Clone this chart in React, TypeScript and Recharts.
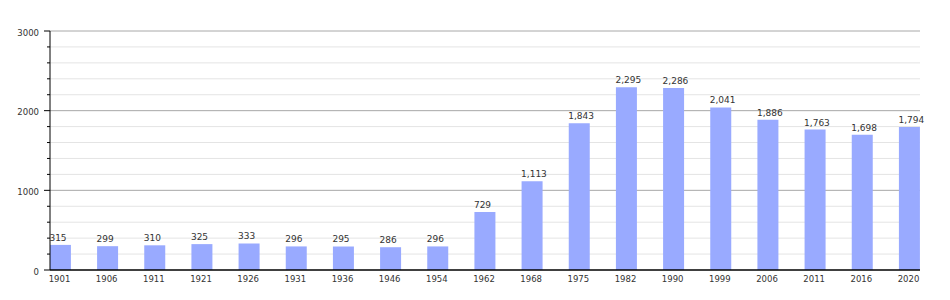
import React from "react";
import { BarChart, Bar, XAxis, YAxis, CartesianGrid, LabelList } from "recharts";

const years = ["1901","1906","1911","1921","1926","1931","1936","1946","1954","1962","1968","1975","1982","1990","1999","2006","2011","2016","2020"];
const population = [315,299,310,325,333,296,295,286,296,729,1113,1843,2295,2286,2041,1886,1763,1698,1794];
const yTicks = [0,200,400,600,800,1000,1200,1400,1600,1800,2000,2200,2400,2600,2800,3000];
const majorTicks = [1000,2000,3000];
const minorTicks = yTicks.filter((t) => t > 0 && !majorTicks.includes(t));

const data = years.map((y, i) => ({ idx: i, year: y, pop: population[i] }));
const xTicks = years.map((_, i) => i);

const FONT = "DejaVu Sans, Verdana, sans-serif";

const YTick = (props: any) => {
  const { x, y, payload } = props;
  const v = payload.value as number;
  const major = v % 1000 === 0;
  return (
    <g>
      <line x1={x - (major ? 6 : 3)} x2={x} y1={y} y2={y} stroke="#000" strokeWidth={1} />
      {major && (
        <text x={x - 11} y={y + 4.5} textAnchor="end" fontSize={8.5} fontFamily={FONT} fill="#333">
          {v}
        </text>
      )}
    </g>
  );
};

const XTick = (props: any) => {
  const { x, y, payload } = props;
  return (
    <text x={x - 1} y={y + 12} textAnchor="middle" fontSize={8.5} fontFamily={FONT} fill="#333">
      {years[payload.value]}
    </text>
  );
};

const BarLabel = (props: any) => {
  const { x, y, value } = props;
  return (
    <text x={x - 0.5} y={y - 4} textAnchor="start" fontSize={9} fontFamily={FONT} fill="#333">
      {Number(value).toLocaleString("en-US")}
    </text>
  );
};

export default function App() {
  return (
    <div style={{ position: "absolute", left: 0, top: 0, width: 950, height: 300, background: "#fff" }}>
      <BarChart width={950} height={300} data={data} margin={{ top: 31, right: 30, bottom: 0, left: 0 }}>
        <CartesianGrid vertical={false} horizontalValues={minorTicks} stroke="#e4e4e4" strokeWidth={1} />
        <CartesianGrid vertical={false} horizontalValues={majorTicks} stroke="#a8a8a8" strokeWidth={1} />
        <XAxis
          dataKey="idx"
          type="number"
          domain={[-0.2226, 18.2226]}
          ticks={xTicks}
          interval={0}
          allowDataOverflow
          height={30}
          tickLine={false}
          tickSize={0}
          tickMargin={0}
          tick={<XTick />}
          axisLine={{ stroke: "#000", strokeWidth: 1.5 }}
        />
        <YAxis
          type="number"
          domain={[0, 3000]}
          ticks={yTicks}
          interval={0}
          width={50}
          tickLine={false}
          tickSize={0}
          tickMargin={0}
          tick={<YTick />}
          axisLine={{ stroke: "#000", strokeWidth: 1 }}
        />
        <Bar dataKey="pop" fill="#99aaff" barSize={21} isAnimationActive={false}>
          <LabelList dataKey="pop" content={<BarLabel />} />
        </Bar>
      </BarChart>
    </div>
  );
}
